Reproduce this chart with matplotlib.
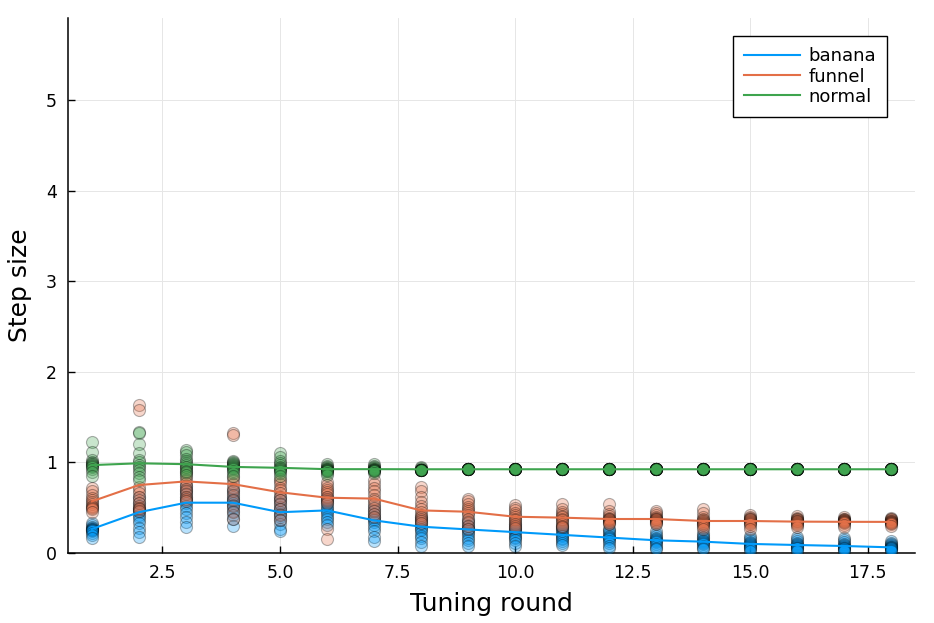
import numpy as np
import matplotlib
matplotlib.use("Agg")
import matplotlib.pyplot as plt
from matplotlib.colors import to_rgba

# tuning rounds
rounds = list(range(1, 19))

# step sizes of every chain in each round, one list per round
banana_steps = [
    [0.33, 0.31, 0.29, 0.28, 0.27, 0.26, 0.25, 0.25, 0.24, 0.22, 0.20, 0.17],
    [0.62, 0.55, 0.50, 0.47, 0.45, 0.42, 0.40, 0.36, 0.33, 0.28, 0.23, 0.18],
    [0.74, 0.70, 0.66, 0.62, 0.58, 0.55, 0.52, 0.48, 0.44, 0.40, 0.34, 0.29],
    [0.70, 0.66, 0.62, 0.60, 0.57, 0.55, 0.53, 0.50, 0.46, 0.42, 0.37, 0.30],
    [0.62, 0.58, 0.55, 0.51, 0.48, 0.45, 0.43, 0.40, 0.36, 0.32, 0.27, 0.24],
    [0.62, 0.58, 0.55, 0.52, 0.50, 0.47, 0.45, 0.43, 0.40, 0.37, 0.34, 0.31],
    [0.52, 0.47, 0.43, 0.40, 0.38, 0.36, 0.34, 0.31, 0.28, 0.24, 0.18, 0.13],
    [0.40, 0.36, 0.33, 0.31, 0.29, 0.27, 0.25, 0.22, 0.19, 0.16, 0.12, 0.08],
    [0.36, 0.33, 0.30, 0.28, 0.26, 0.24, 0.22, 0.20, 0.17, 0.14, 0.11, 0.08],
    [0.32, 0.29, 0.27, 0.25, 0.24, 0.22, 0.20, 0.18, 0.16, 0.14, 0.11, 0.08],
    [0.30, 0.28, 0.26, 0.24, 0.22, 0.20, 0.19, 0.17, 0.15, 0.13, 0.11, 0.09],
    [0.27, 0.25, 0.23, 0.21, 0.19, 0.18, 0.16, 0.15, 0.13, 0.11, 0.08, 0.05],
    [0.24, 0.21, 0.19, 0.17, 0.15, 0.14, 0.13, 0.12, 0.10, 0.08, 0.06, 0.04],
    [0.22, 0.20, 0.18, 0.16, 0.14, 0.13, 0.12, 0.11, 0.10, 0.08, 0.06, 0.04],
    [0.19, 0.16, 0.14, 0.12, 0.11, 0.10, 0.09, 0.08, 0.07, 0.05, 0.04, 0.02],
    [0.18, 0.15, 0.13, 0.11, 0.10, 0.09, 0.08, 0.07, 0.06, 0.05, 0.03, 0.02],
    [0.17, 0.14, 0.12, 0.10, 0.09, 0.08, 0.07, 0.06, 0.05, 0.04, 0.03, 0.02],
    [0.13, 0.11, 0.10, 0.09, 0.08, 0.07, 0.07, 0.06, 0.05, 0.04, 0.03, 0.02],
]
funnel_steps = [
    [0.72, 0.68, 0.64, 0.61, 0.58, 0.56, 0.54, 0.52, 0.51, 0.50, 0.48, 0.45],
    [1.63, 1.58, 0.73, 0.70, 0.66, 0.62, 0.58, 0.55, 0.52, 0.50, 0.48, 0.46],
    [0.95, 0.88, 0.84, 0.80, 0.77, 0.74, 0.71, 0.68, 0.65, 0.62, 0.60, 0.57],
    [1.32, 1.30, 0.84, 0.80, 0.76, 0.72, 0.68, 0.64, 0.58, 0.52, 0.45, 0.37],
    [0.82, 0.79, 0.76, 0.72, 0.69, 0.66, 0.62, 0.58, 0.54, 0.48, 0.42, 0.36],
    [0.78, 0.75, 0.72, 0.69, 0.67, 0.65, 0.62, 0.60, 0.57, 0.55, 0.27, 0.15],
    [0.80, 0.76, 0.72, 0.68, 0.64, 0.60, 0.57, 0.54, 0.50, 0.46, 0.43, 0.40],
    [0.73, 0.68, 0.62, 0.56, 0.52, 0.48, 0.45, 0.42, 0.40, 0.38, 0.35, 0.33],
    [0.60, 0.57, 0.54, 0.51, 0.48, 0.46, 0.44, 0.42, 0.38, 0.34, 0.30, 0.26],
    [0.53, 0.50, 0.47, 0.44, 0.42, 0.40, 0.38, 0.36, 0.34, 0.32, 0.30, 0.28],
    [0.54, 0.48, 0.45, 0.43, 0.41, 0.40, 0.38, 0.36, 0.34, 0.32, 0.30, 0.29],
    [0.54, 0.46, 0.43, 0.41, 0.39, 0.38, 0.37, 0.36, 0.35, 0.34, 0.33, 0.32],
    [0.46, 0.44, 0.42, 0.40, 0.39, 0.38, 0.37, 0.36, 0.35, 0.34, 0.33, 0.32],
    [0.48, 0.44, 0.40, 0.38, 0.36, 0.35, 0.34, 0.33, 0.32, 0.31, 0.29, 0.27],
    [0.42, 0.40, 0.39, 0.38, 0.37, 0.36, 0.35, 0.34, 0.33, 0.32, 0.30, 0.26],
    [0.41, 0.39, 0.38, 0.37, 0.36, 0.35, 0.35, 0.34, 0.33, 0.32, 0.31, 0.29],
    [0.40, 0.38, 0.37, 0.36, 0.36, 0.35, 0.35, 0.34, 0.34, 0.33, 0.31, 0.29],
    [0.39, 0.38, 0.37, 0.36, 0.35, 0.35, 0.34, 0.34, 0.33, 0.33, 0.32, 0.30],
]
normal_steps = [
    [1.22, 1.11, 1.03, 1.00, 0.99, 0.98, 0.97, 0.96, 0.95, 0.93, 0.89, 0.85],
    [1.34, 1.32, 1.20, 1.10, 1.03, 1.00, 0.97, 0.95, 0.92, 0.88, 0.84, 0.80],
    [1.14, 1.12, 1.08, 1.04, 1.01, 0.99, 0.97, 0.95, 0.93, 0.91, 0.89, 0.86],
    [1.02, 1.00, 0.99, 0.98, 0.97, 0.96, 0.95, 0.94, 0.93, 0.91, 0.88, 0.85],
    [1.10, 1.06, 1.02, 0.99, 0.97, 0.95, 0.94, 0.93, 0.92, 0.91, 0.88, 0.85],
    [0.98, 0.96, 0.95, 0.94, 0.93, 0.93, 0.92, 0.92, 0.91, 0.90, 0.88, 0.86],
    [0.98, 0.96, 0.95, 0.94, 0.93, 0.93, 0.92, 0.92, 0.92, 0.91, 0.90, 0.88],
    [0.95, 0.94, 0.93, 0.92, 0.92, 0.92, 0.92, 0.92, 0.92, 0.92, 0.92, 0.92],
] + [[0.924] * 12 for _ in range(10)]

# mean step size per round (the lines)
banana_mean = [0.265, 0.45, 0.555, 0.555, 0.45, 0.47, 0.36, 0.29, 0.26,
               0.23, 0.20, 0.17, 0.14, 0.125, 0.10, 0.088, 0.077, 0.062]
funnel_mean = [0.57, 0.75, 0.79, 0.76, 0.67, 0.61, 0.60, 0.47, 0.455,
               0.40, 0.39, 0.375, 0.375, 0.353, 0.353, 0.346, 0.344, 0.343]
normal_mean = [0.97, 0.99, 0.98, 0.95, 0.94, 0.925, 0.925, 0.924, 0.924,
               0.924, 0.924, 0.924, 0.924, 0.924, 0.924, 0.924, 0.924, 0.924]

names = ["banana", "funnel", "normal"]
colors = ["#009AFA", "#E36F47", "#3EA44E"]
steps = [banana_steps, funnel_steps, normal_steps]
means = [banana_mean, funnel_mean, normal_mean]

plt.rcParams['font.family'] = ['DejaVu Sans']
fig = plt.figure(figsize=(9.34, 6.23), dpi=100)
ax = fig.add_axes([0.0728, 0.1124, 0.9069, 0.8587])

# scatter of all chains
for c, st in zip(colors, steps):
    xs = []
    ys = []
    for r, vals in zip(rounds, st):
        xs += [r] * len(vals)
        ys += vals
    ax.scatter(xs, ys, s=75, color=to_rgba(c, 0.28),
               edgecolors=(0, 0, 0, 0.3), linewidths=0.8, zorder=3)

# mean lines
for name, c, m in zip(names, colors, means):
    ax.plot(rounds, m, color=c, lw=1.5, label=name, zorder=4)

ax.set_xlim(0.49, 18.51)
ax.set_ylim(0, 5.905)
ax.set_xticks([2.5, 5.0, 7.5, 10.0, 12.5, 15.0, 17.5])
ax.set_xticklabels(["2.5", "5.0", "7.5", "10.0", "12.5", "15.0", "17.5"])
ax.set_yticks([0, 1, 2, 3, 4, 5])
for sp in ["top", "right"]:
    ax.spines[sp].set_visible(False)
for sp in ["left", "bottom"]:
    ax.spines[sp].set_linewidth(1.1)
ax.tick_params(direction="in", length=5, width=1, labelsize=12.5, pad=8)
ax.set_axisbelow(True)
ax.grid(True, color="#e6e6e6", lw=0.7)
ax.set_xlabel("Tuning round", fontsize=18, labelpad=7)
ax.set_ylabel("Step size", fontsize=18, labelpad=10)

leg = ax.legend(loc="upper right", fontsize=13, frameon=True, fancybox=False,
                edgecolor="black", borderpad=0.62, handlelength=3.1,
                handletextpad=0.45, labelspacing=0.12, framealpha=1,
                bbox_to_anchor=(0.967, 0.966), borderaxespad=0)
leg.get_frame().set_linewidth(1.0)

fig.savefig("out.png", dpi=100)
